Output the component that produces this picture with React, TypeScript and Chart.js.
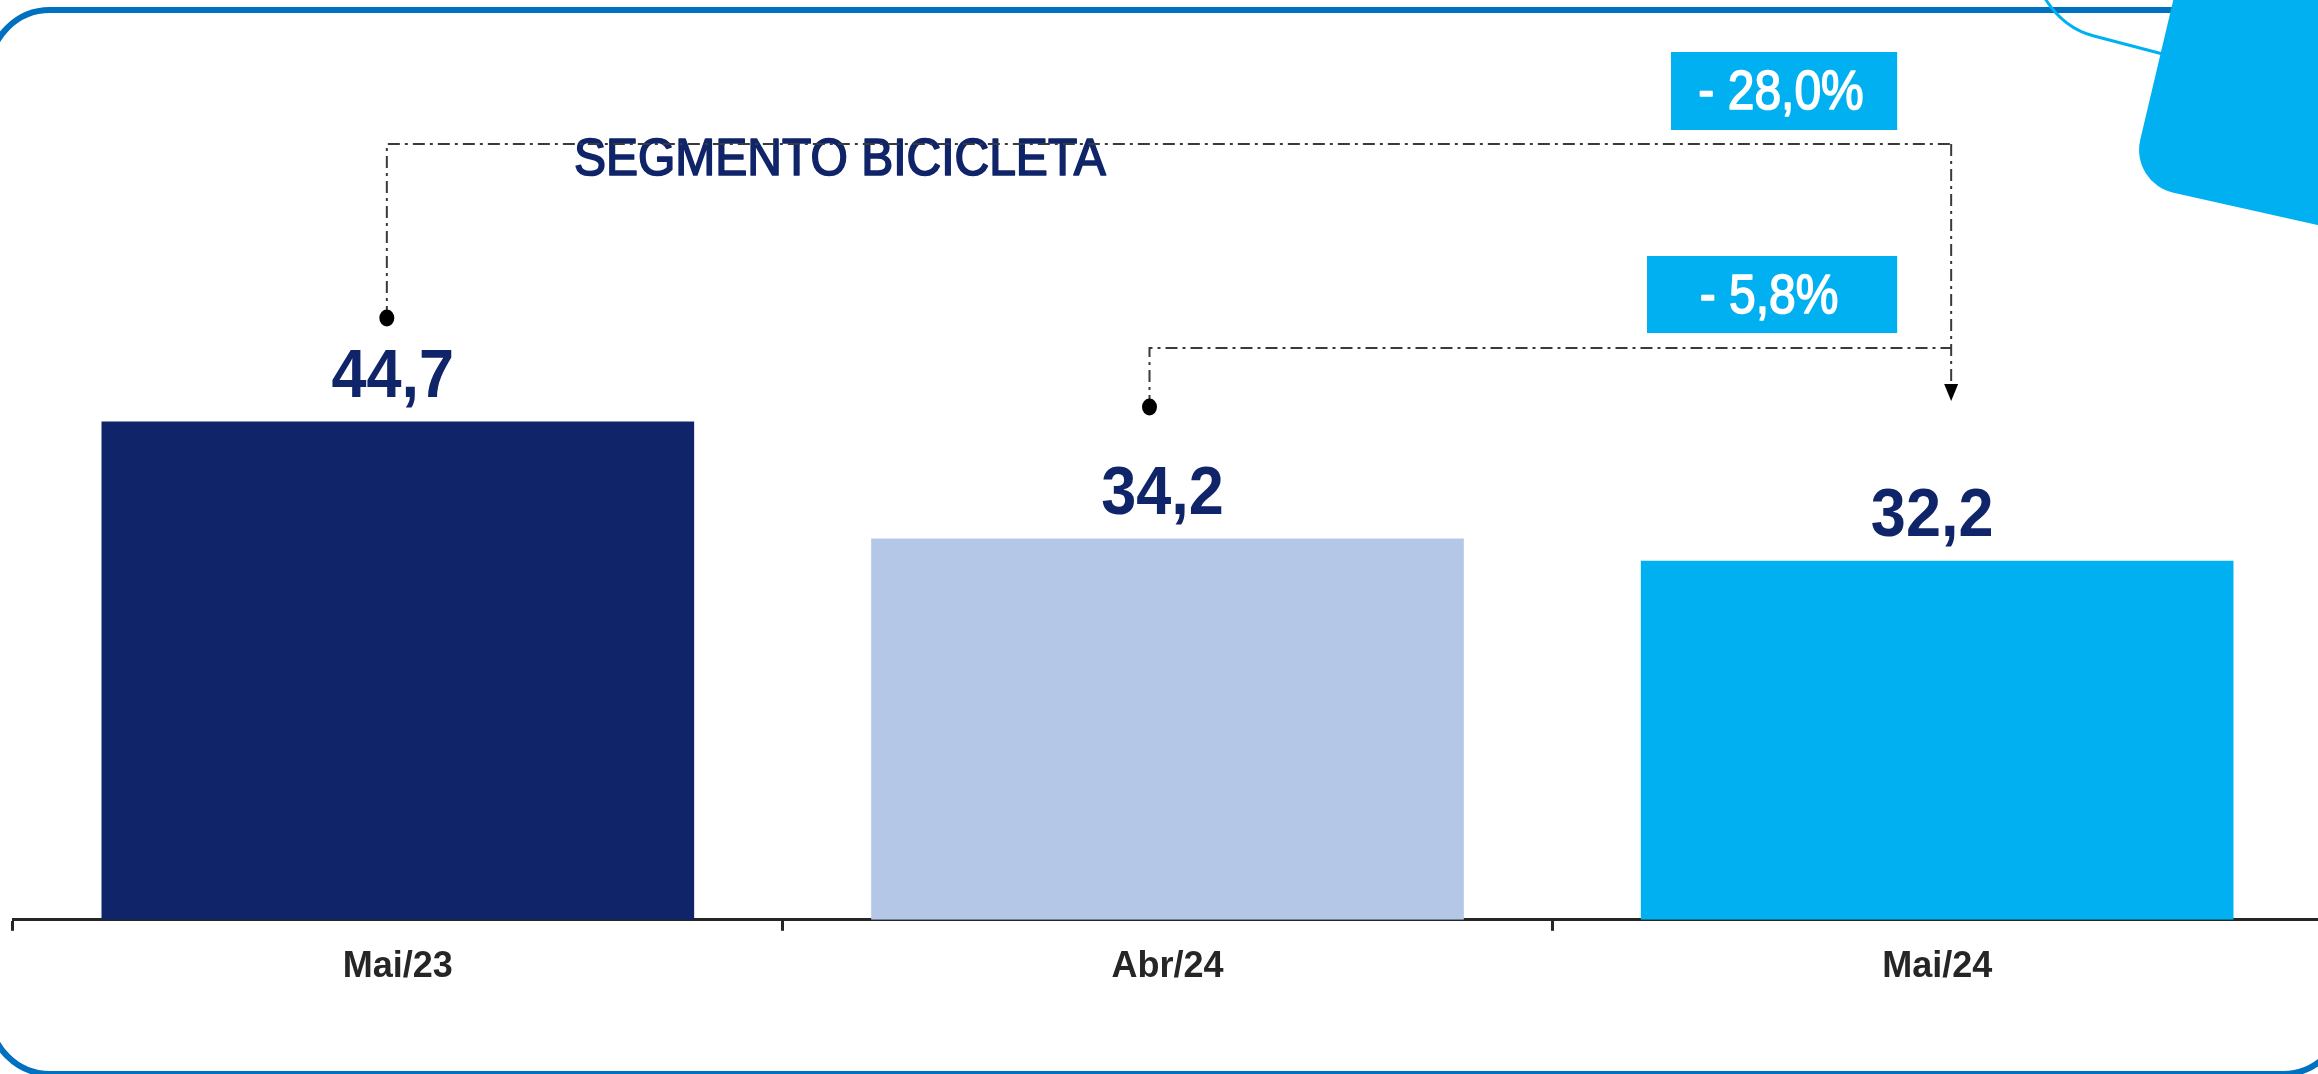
import React, { useEffect, useRef } from 'react';
import { Chart, registerables } from 'chart.js';

Chart.register(...registerables);

// ---- data ----
const categories = ['Mai/23', 'Abr/24', 'Mai/24'];
const values = [44.7, 34.2, 32.2];
const valueLabels = ['44,7', '34,2', '32,2'];
const barColors = ['#0F2469', '#B4C7E7', '#00B0F0'];
const chartTitle = 'SEGMENTO BICICLETA';
const changeLabels = ['- 28,0%', '- 5,8%'];
const changeFrom = [0, 1];
const changeTo = 2;

const FONT = '"Liberation Sans", Arial, sans-serif';
const NAVY = '#0F2469';
const CYAN = '#00B0F0';

function stretchedText(
  ctx: CanvasRenderingContext2D,
  text: string,
  x: number,
  y: number,
  font: string,
  color: string,
  align: CanvasTextAlign,
  sy = 1.1,
  stroke = 0
) {
  ctx.save();
  ctx.font = font;
  ctx.fillStyle = color;
  ctx.strokeStyle = color;
  ctx.textAlign = align;
  ctx.textBaseline = 'alphabetic';
  ctx.translate(x, y);
  ctx.scale(1, sy);
  ctx.fillText(text, 0, 0);
  if (stroke > 0) {
    ctx.lineWidth = stroke;
    ctx.lineJoin = 'round';
    ctx.strokeText(text, 0, 0);
  }
  ctx.restore();
}

const decorPlugin = {
  id: 'decor',
  beforeDraw(chart: any) {
    const ctx: CanvasRenderingContext2D = chart.ctx;
    ctx.save();
    // frame
    ctx.lineWidth = 6;
    ctx.strokeStyle = '#0070C0';
    ctx.beginPath();
    (ctx as any).roundRect(-10, 10, 2353, 1064, 60);
    ctx.stroke();
    // thin cyan curve
    ctx.lineWidth = 3;
    ctx.strokeStyle = CYAN;
    ctx.beginPath();
    ctx.moveTo(2043, -5);
    ctx.quadraticCurveTo(2062, 28, 2094, 36);
    ctx.lineTo(2178, 58);
    ctx.stroke();
    // cyan shape
    ctx.fillStyle = CYAN;
    ctx.beginPath();
    ctx.moveTo(2178, -20);
    ctx.arcTo(2130, 183, 2340, 230, 44);
    ctx.lineTo(2340, 230);
    ctx.lineTo(2340, -20);
    ctx.closePath();
    ctx.fill();
    ctx.restore();
  },
};

const annotPlugin = {
  id: 'annot',
  afterDatasetsDraw(chart: any) {
    const ctx: CanvasRenderingContext2D = chart.ctx;
    const xs = chart.scales.x;
    const ys = chart.scales.y;
    const xc = categories.map((_, i) => xs.getPixelForValue(i));

    // value labels
    values.forEach((v, i) => {
      stretchedText(ctx, valueLabels[i], xc[i] - 5, ys.getPixelForValue(v) - 25, `bold 63px ${FONT}`, NAVY, 'center', 1.1);
    });

    // title
    stretchedText(ctx, chartTitle, 574, 175, `48px ${FONT}`, NAVY, 'left', 1.09, 1.6);

    // brackets
    const arrowX = xc[changeTo] + 14;
    const dotDx = [-11, -18];
    const dotY = [318, 407];
    const lineY = [144, 348];
    const boxLeft = [1671, 1647];
    const boxTop = [52, 256];
    const boxH = [78, 77];
    const boxRight = arrowX - 54;

    ctx.save();
    ctx.strokeStyle = '#3A3A3A';
    ctx.lineWidth = 2;
    ctx.setLineDash([12, 5, 3, 5]);
    changeFrom.forEach((f, k) => {
      const fx = xc[f] + dotDx[k];
      ctx.beginPath();
      ctx.moveTo(fx, dotY[k]);
      ctx.lineTo(fx, lineY[k]);
      ctx.lineTo(arrowX, lineY[k]);
      ctx.stroke();
    });
    ctx.beginPath();
    ctx.moveTo(arrowX, Math.min(...lineY));
    ctx.lineTo(arrowX, 386);
    ctx.stroke();
    ctx.setLineDash([]);
    ctx.fillStyle = '#000000';
    changeFrom.forEach((f, k) => {
      const fx = xc[f] + dotDx[k];
      ctx.beginPath();
      ctx.ellipse(fx, dotY[k], 7.5, 8.5, 0, 0, Math.PI * 2);
      ctx.fill();
    });
    ctx.beginPath();
    ctx.moveTo(arrowX - 7, 384);
    ctx.lineTo(arrowX + 7, 384);
    ctx.lineTo(arrowX, 401);
    ctx.closePath();
    ctx.fill();
    ctx.restore();

    // change boxes
    changeLabels.forEach((lab, k) => {
      ctx.save();
      ctx.fillStyle = CYAN;
      ctx.fillRect(boxLeft[k], boxTop[k], boxRight - boxLeft[k], boxH[k]);
      ctx.restore();
      const cx = (boxLeft[k] + boxRight) / 2 - 3;
      stretchedText(ctx, lab, cx, boxTop[k] + 57, `48px ${FONT}`, '#FFFFFF', 'center', 1.14, 1.4);
    });
  },
};

export default function App() {
  const ref = useRef<HTMLCanvasElement | null>(null);
  useEffect(() => {
    if (!ref.current) return;
    const chart = new Chart(ref.current, {
      type: 'bar',
      data: {
        labels: categories,
        datasets: [
          {
            data: values,
            backgroundColor: barColors,
            categoryPercentage: 1,
            barPercentage: 0.77,
          },
        ],
      },
      options: {
        responsive: false,
        animation: false,
        devicePixelRatio: 1,
        layout: { padding: { left: 13, right: 0, top: 28, bottom: 70 } },
        plugins: {
          legend: { display: false },
          tooltip: { enabled: false },
          title: { display: false },
        },
        scales: {
          x: {
            grid: {
              offset: true,
              drawOnChartArea: false,
              drawTicks: true,
              tickLength: 11,
              color: '#262626',
              lineWidth: 3,
            },
            border: { display: true, color: '#262626', width: 3 },
            ticks: {
              font: { family: FONT, size: 36, weight: 'bold' },
              color: '#262626',
              padding: 15,
            },
          },
          y: { display: false, min: 0, max: 80 },
        },
      },
      plugins: [decorPlugin, annotPlugin],
    } as any);
    return () => chart.destroy();
  }, []);
  return (
    <div
      style={{
        position: 'absolute',
        left: 0,
        top: 0,
        width: 2318,
        height: 1074,
        overflow: 'hidden',
        background: '#FFFFFF',
      }}
    >
      <canvas ref={ref} width={2322} height={1074} style={{ display: 'block' }} />
    </div>
  );
}
